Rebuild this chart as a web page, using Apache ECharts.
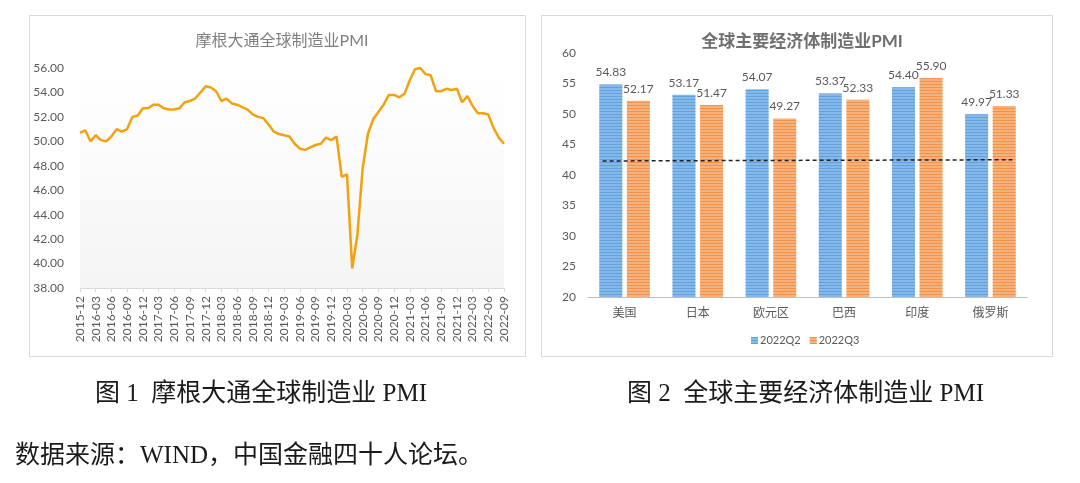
<!DOCTYPE html>
<html>
<head>
<meta charset="utf-8">
<style>
    html, body { margin: 0; padding: 0; background: #fff; }
    #wrap { position: relative; width: 1080px; height: 483px; overflow: hidden; }
    #main { width: 1080px; height: 483px; }
    .cap {
        position: absolute;
        font-family: "Liberation Serif", "Noto Sans CJK SC", serif;
        font-size: 25px;
        line-height: 26px;
        color: #1a1a1a;
        white-space: pre;
    }
</style>
<script src="https://cdn.jsdelivr.net/npm/echarts@6/dist/echarts.min.js"></script>
</head>
<body>
<div id="wrap">
    <div id="main"></div>
    <div class="cap" id="cap1" style="left:95px; top:380px;">图 1  摩根大通全球制造业 PMI</div>
    <div class="cap" id="cap2" style="left:627px; top:380px;">图 2  全球主要经济体制造业 PMI</div>
    <div class="cap" id="src" style="left:15px; top:442px;">数据来源：WIND，中国金融四十人论坛。</div>
</div>
<script>
// ---- Figure 1: JPMorgan global manufacturing PMI, monthly ----
var months = [];
(function () {
    var y = 2015, m = 12;
    for (var i = 0; i < 82; i++) {
        months.push(y + '-' + (m < 10 ? '0' + m : m));
        m++;
        if (m > 12) { m = 1; y++; }
    }
})();

var pmiGlobal = [
    50.7,
    50.9, 50.0, 50.5, 50.1, 50.0, 50.4, 51.0, 50.8, 51.0, 52.0, 52.1, 52.7,
    52.7, 53.0, 53.0, 52.7, 52.6, 52.6, 52.7, 53.2, 53.3, 53.5, 54.0, 54.5,
    54.4, 54.1, 53.3, 53.5, 53.1, 53.0, 52.8, 52.6, 52.2, 52.0, 51.9, 51.4,
    50.8, 50.6, 50.5, 50.4, 49.8, 49.4, 49.3, 49.5, 49.7, 49.8, 50.3, 50.1,
    50.4, 47.1, 47.3, 39.6, 42.4, 47.8, 50.6, 51.8, 52.4, 53.0, 53.8, 53.8,
    53.6, 53.9, 55.0, 55.9, 56.0, 55.5, 55.4, 54.1, 54.1, 54.3, 54.2, 54.3,
    53.2, 53.7, 52.9, 52.3, 52.3, 52.2, 51.1, 50.3, 49.8
];

// ---- Figure 2: major economies manufacturing PMI ----
var economies = ['美国', '日本', '欧元区', '巴西', '印度', '俄罗斯'];
var pmiQ2 = [54.83, 53.17, 54.07, 53.37, 54.40, 49.97];
var pmiQ3 = [52.17, 51.47, 49.27, 52.33, 55.90, 51.33];
// dashed trend line, x in category-index units
var trendLine = [[-0.3, 42.3], [5.3, 42.5]];

var chartFont = 'Lato, "Noto Sans CJK SC", sans-serif';

var chart = echarts.init(document.getElementById('main'));

chart.setOption({
    animation: false,
    backgroundColor: '#fff',
    textStyle: { fontFamily: chartFont },

    title: [
        {
            text: '摩根大通全球制造业PMI',
            left: 277, top: 28, textAlign: 'center',
            textStyle: { fontSize: 16, fontWeight: 'normal', color: '#7f7f7f', fontFamily: chartFont }
        },
        {
            text: '全球主要经济体制造业PMI',
            left: 797, top: 28, textAlign: 'center',
            textStyle: { fontSize: 17, fontWeight: 'bold', color: '#6f6f6f', fontFamily: chartFont }
        }
    ],

    legend: {
        data: ['2022Q2', '2022Q3'],
        left: 746, top: 330,
        itemWidth: 7, itemHeight: 7, itemGap: 9,
        icon: 'rect',
        textStyle: { fontSize: 11, color: '#595959', padding: [0, 0, 0, -3] }
    },

    grid: [
        {
            left: 80, right: 576, top: 68, bottom: 195,
            show: true, borderWidth: 0,
            backgroundColor: new echarts.graphic.LinearGradient(0, 0, 0, 1, [
                { offset: 0, color: '#ffffff' },
                { offset: 1, color: '#f5f5f5' }
            ])
        },
        { left: 588, right: 53, top: 53, bottom: 186 }
    ],

    xAxis: [
        {
            gridIndex: 0,
            type: 'category',
            data: months,
            boundaryGap: false,
            axisLine: { lineStyle: { color: '#d9d9d9' } },
            axisTick: { interval: 2, length: 4, lineStyle: { color: '#d9d9d9' } },
            axisLabel: { interval: 2, rotate: 90, fontSize: 12, color: '#595959', margin: 8 }
        },
        {
            gridIndex: 1,
            type: 'category',
            data: economies,
            axisLine: { lineStyle: { color: '#bfbfbf' } },
            axisTick: { show: false },
            axisLabel: { fontSize: 12, color: '#595959', margin: 10 }
        },
        {
            gridIndex: 1,
            type: 'value',
            min: -0.5, max: 5.5,
            show: false
        }
    ],

    yAxis: [
        {
            gridIndex: 0,
            type: 'value',
            min: 38, max: 56, interval: 2,
            axisLine: { show: false },
            axisTick: { show: false },
            splitLine: { show: false },
            axisLabel: {
                fontSize: 12, color: '#595959', margin: 16,
                formatter: function (v) { return v.toFixed(2); }
            }
        },
        {
            gridIndex: 1,
            type: 'value',
            min: 20, max: 60, interval: 5,
            axisLine: { show: false },
            axisTick: { show: false },
            splitLine: { show: false },
            axisLabel: { fontSize: 12, color: '#595959', margin: 12 }
        }
    ],

    series: [
        {
            name: 'JPM',
            type: 'line',
            xAxisIndex: 0, yAxisIndex: 0,
            data: pmiGlobal,
            symbol: 'none',
            lineStyle: { color: '#f2a20c', width: 2.5 }
        },
        {
            name: '2022Q2',
            type: 'bar',
            xAxisIndex: 1, yAxisIndex: 1,
            data: pmiQ2,
            barWidth: 23,
            barGap: '20%',
            itemStyle: {
                color: '#84b9ea',
                decal: {
                    symbol: 'rect', symbolSize: 1,
                    dashArrayX: [[1, 0]], dashArrayY: [1, 2],
                    color: 'rgba(70,140,210,0.55)'
                }
            },
            label: {
                show: true, position: 'top', distance: 6,
                fontSize: 12, color: '#595959',
                formatter: function (p) { return p.value.toFixed(2); }
            }
        },
        {
            name: '2022Q3',
            type: 'bar',
            xAxisIndex: 1, yAxisIndex: 1,
            data: pmiQ3,
            barWidth: 23,
            barGap: '20%',
            itemStyle: {
                color: '#f7b27c',
                decal: {
                    symbol: 'rect', symbolSize: 1,
                    dashArrayX: [[1, 0]], dashArrayY: [1, 2],
                    color: 'rgba(235,120,40,0.55)'
                }
            },
            label: {
                show: true, position: 'top', distance: 6,
                fontSize: 12, color: '#595959',
                formatter: function (p) { return p.value.toFixed(2); }
            }
        },
        {
            name: 'trend',
            type: 'line',
            xAxisIndex: 2, yAxisIndex: 1,
            data: trendLine,
            symbol: 'none',
            lineStyle: { color: '#222', width: 1.5, type: [4, 3] },
            z: 5
        }
    ],

    graphic: [
        // chart frames
        {
            type: 'rect', silent: true,
            shape: { x: 29.5, y: 15.5, width: 496, height: 341 },
            style: { fill: 'none', stroke: '#d9d9d9', lineWidth: 1 }
        },
        {
            type: 'rect', silent: true,
            shape: { x: 541.5, y: 15.5, width: 511, height: 341 },
            style: { fill: 'none', stroke: '#d9d9d9', lineWidth: 1 }
        }
    ]
});
</script>
</body>
</html>
